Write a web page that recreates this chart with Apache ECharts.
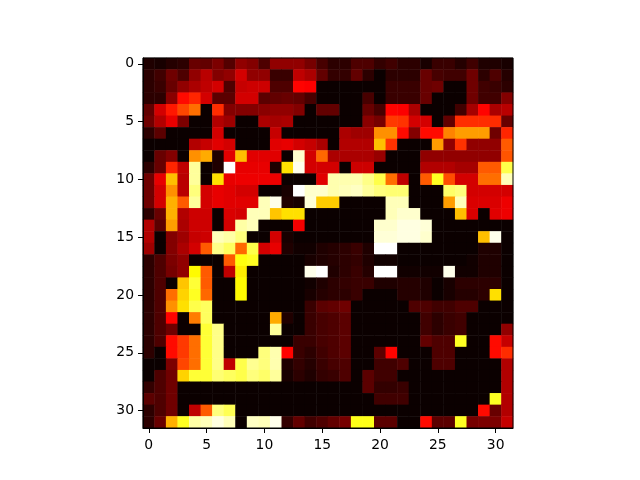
<!DOCTYPE html>
<html>
<head>
<meta charset="utf-8">
<style>
    html, body { margin: 0; padding: 0; background: #fff; }
    #main { width: 640px; height: 480px; }
</style>
<script src="https://cdn.jsdelivr.net/npm/echarts@6/dist/echarts.min.js"></script>
</head>
<body>
<div id="main"></div>
<script>
// category labels, 0..31 on both axes
var xCategories = ['0','1','2','3','4','5','6','7','8','9','10','11','12','13','14','15','16','17','18','19','20','21','22','23','24','25','26','27','28','29','30','31'];
var yCategories = xCategories;

// cell values, in percent of the colour scale, one list per row
var row00 = [3,2,4,5,14,13,17,11,20,18,10,20,20,20,16,9,5,5,10,10,6,8,5,5,2,7,7,4,8,3,3,2];
var row01 = [5,8,15,10,20,26,18,20,30,20,20,7,7,27,24,13,6,6,13,5,0,5,5,5,14,9,8,8,15,5,10,4];
var row02 = [5,7,14,20,24,27,30,10,28,29,29,10,10,37,36,0,0,0,0,0,0,7,7,7,14,15,0,0,15,8,7,5];
var row03 = [5,5,19,38,42,30,12,12,30,30,12,13,14,13,9,0,0,0,0,9,0,7,7,7,14,0,0,0,15,8,8,18];
var row04 = [13,30,40,47,53,0,43,18,18,18,19,20,20,18,0,13,13,0,0,14,9,37,36,24,0,0,0,8,23,37,24,26];
var row05 = [15,25,33,17,0,0,25,22,0,0,24,23,24,0,0,0,0,0,0,19,16,45,44,30,30,0,13,43,43,43,43,14];
var row06 = [5,12,0,0,0,0,30,0,0,0,0,28,0,0,0,0,0,24,22,22,58,58,38,18,38,38,56,60,60,60,15,42];
var row07 = [0,0,0,0,25,28,32,30,0,0,0,32,33,30,28,24,0,25,25,25,65,44,0,0,0,60,20,44,20,20,20,50];
var row08 = [0,14,18,0,58,62,3,32,65,32,32,32,0,95,30,52,24,24,24,24,21,0,0,0,20,20,20,20,20,20,20,49];
var row09 = [5,14,42,27,90,0,3,100,33,33,33,3,70,98,30,30,30,0,29,29,0,0,0,0,25,25,25,23,23,50,50,82];
var row10 = [15,33,65,26,90,0,70,33,34,34,34,34,0,0,0,32,92,92,92,88,82,53,27,0,50,78,48,30,30,53,53,93];
var row11 = [15,30,58,26,87,30,33,32,30,30,0,0,2,100,95,95,92,93,94,90,87,86,86,0,0,0,85,87,30,30,30,30];
var row12 = [15,30,63,50,90,30,33,32,32,32,93,98,3,2,96,67,67,0,0,0,0,93,93,0,0,0,60,93,31,31,31,34];
var row13 = [5,14,63,25,29,29,0,31,30,93,93,66,70,70,0,0,0,0,0,0,0,93,95,95,0,0,0,65,31,0,32,34];
var row14 = [25,12,60,24,29,29,0,30,91,93,0,0,0,35,0,0,0,0,0,0,95,95,97,97,96,0,0,0,0,0,0,0];
var row15 = [25,0,18,22,28,29,93,91,87,0,0,30,2,0,0,0,0,0,0,0,96,96,97,97,95,0,0,0,0,65,98,0];
var row16 = [22,0,18,24,30,50,88,84,52,82,30,33,3,1,1,3,4,5,7,3,100,100,0,0,0,0,0,0,0,3,3,0];
var row17 = [5,10,17,20,0,0,0,50,76,78,0,0,0,0,2,3,4,5,6,3,1,1,0,0,0,0,0,0,1,3,3,0];
var row18 = [5,10,16,20,74,50,0,27,72,0,0,0,0,0,98,100,3,5,7,4,100,100,1,1,1,1,98,1,1,3,3,0];
var row19 = [5,10,0,66,80,50,0,0,74,0,0,0,0,0,1,3,5,6,7,7,3,3,4,4,3,0,2,5,5,5,5,0];
var row20 = [5,10,53,68,78,52,0,0,74,0,0,0,0,0,2,4,5,5,7,0,0,0,4,4,3,0,2,4,4,5,70,0];
var row21 = [5,10,58,70,82,84,0,0,0,0,0,0,0,0,7,12,13,15,0,0,0,0,0,10,10,8,8,10,10,0,0,0];
var row22 = [5,10,37,0,55,84,0,0,0,0,0,62,3,0,7,9,10,12,0,0,0,0,0,0,8,5,7,8,0,0,0,0];
var row23 = [5,10,15,0,0,80,88,0,0,0,0,90,0,0,7,9,10,12,0,0,0,0,0,0,8,5,7,8,0,0,0,20];
var row24 = [5,10,38,45,53,80,88,0,0,0,0,0,0,7,7,9,10,12,0,0,0,0,0,0,13,10,10,78,0,0,38,28];
var row25 = [5,0,38,45,53,80,88,0,0,0,87,92,37,7,5,8,10,12,0,0,12,37,0,0,0,10,10,0,0,0,38,43];
var row26 = [0,0,17,47,53,80,88,27,82,89,87,92,3,6,4,7,9,10,0,0,8,8,10,0,0,10,10,0,0,0,0,25];
var row27 = [0,10,15,68,80,80,86,84,82,87,85,90,2,5,3,6,7,10,0,12,8,8,0,0,0,0,0,0,0,0,0,25];
var row28 = [6,10,15,0,0,0,0,0,0,0,0,0,0,0,0,0,0,0,0,12,6,6,7,0,0,0,0,0,0,0,0,25];
var row29 = [12,10,15,0,0,0,0,0,0,0,0,0,0,0,0,0,0,0,0,0,8,8,8,0,0,0,0,0,0,0,78,25];
var row30 = [5,10,15,0,27,50,87,83,0,0,0,0,0,0,0,0,0,0,0,0,0,0,0,0,0,0,0,0,0,38,14,25];
var row31 = [5,14,63,78,91,93,97,93,0,94,93,98,6,13,8,10,13,16,77,77,12,12,0,0,38,12,12,78,16,17,17,28];

var rows = [row00,row01,row02,row03,row04,row05,row06,row07,row08,row09,row10,row11,row12,row13,row14,row15,
            row16,row17,row18,row19,row20,row21,row22,row23,row24,row25,row26,row27,row28,row29,row30,row31];

// the black-red-yellow-white colour scale
function hotColor(level) {
    var t = level / 100;
    var r = Math.min(1, 0.0416 + t / 0.365 * 0.9584);
    var g = Math.max(0, Math.min(1, (t - 0.365) / 0.381));
    var b = Math.max(0, (t - 0.746) / 0.254);
    return 'rgb(' + Math.round(r * 255) + ',' + Math.round(g * 255) + ',' + Math.round(b * 255) + ')';
}
var hotColors = [];
for (var i = 0; i <= 100; i++) {
    hotColors.push(hotColor(i));
}

var cells = [];
rows.forEach(function (row, y) {
    row.forEach(function (value, x) {
        cells.push([x, y, value]);
    });
});

var myChart = echarts.init(document.getElementById('main'));

var axisLine = { show: true, onZero: false, lineStyle: { color: '#000', width: 1 } };
var axisTick = { show: true, alignWithLabel: true, interval: 4, length: 5, lineStyle: { color: '#000', width: 1 } };

var option = {
    animation: false,
    backgroundColor: '#fff',
    grid: { left: 143, top: 58, width: 370, height: 370, show: true, backgroundColor: 'transparent', borderColor: '#000', borderWidth: 1, z: 10 },
    visualMap: { show: false, min: 0, max: 100, inRange: { color: hotColors } },
    xAxis: {
        type: 'category',
        data: xCategories,
        position: 'bottom',
        z: 10,
        axisLine: axisLine,
        axisTick: axisTick,
        splitLine: { show: false },
        axisLabel: { interval: 4, fontFamily: 'DejaVu Sans', fontSize: 13.9, color: '#000', margin: 10 }
    },
    yAxis: {
        type: 'category',
        data: yCategories,
        inverse: true,
        z: 10,
        axisLine: axisLine,
        axisTick: axisTick,
        splitLine: { show: false },
        axisLabel: { interval: 4, fontFamily: 'DejaVu Sans', fontSize: 13.9, color: '#000', margin: 9, padding: [4, 0, 0, 0] }
    },
    series: [{
        type: 'heatmap',
        data: cells,
        itemStyle: { borderWidth: 0 },
        emphasis: { disabled: true }
    }]
};

myChart.setOption(option);
</script>
</body>
</html>
